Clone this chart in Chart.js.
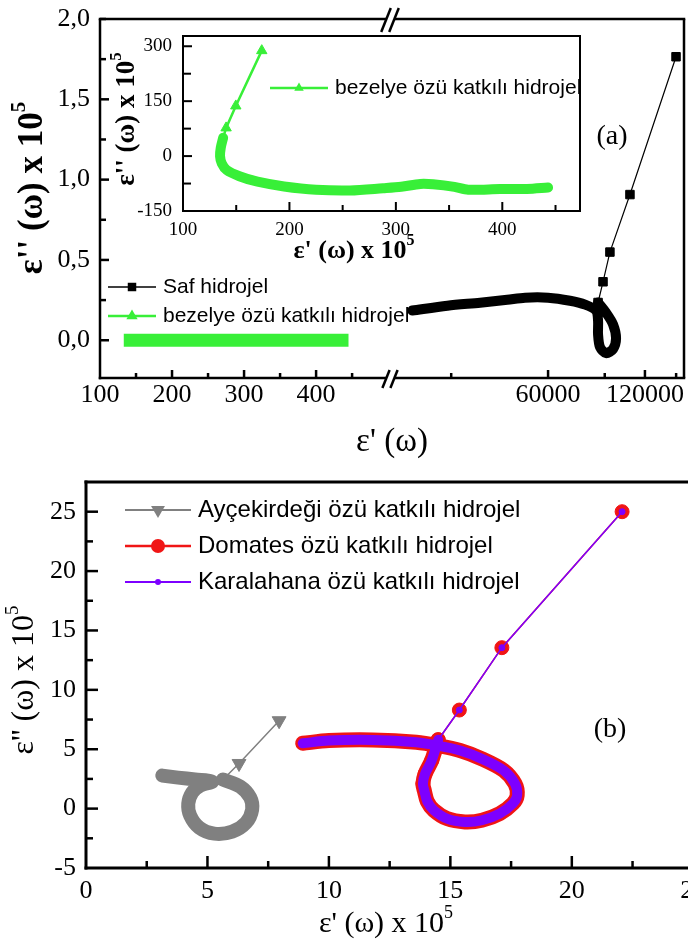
<!DOCTYPE html>
<html>
<head>
<meta charset="utf-8">
<title>Cole-Cole diyagramları</title>
<script src="https://cdn.jsdelivr.net/npm/chart.js"></script>
<style>
  html, body { margin: 0; padding: 0; background: #fff; overflow: hidden; }
  body { width: 688px; height: 947px; position: relative; }
  canvas { position: absolute; left: 0; top: 0; }
</style>
</head>
<body>
<canvas id="aLeft" width="770" height="947"></canvas>
<canvas id="aRight" width="770" height="947"></canvas>
<canvas id="aInset" width="770" height="947"></canvas>
<canvas id="bMain" width="770" height="947"></canvas>
<script>
// ---------- panel (a): left part of the broken x axis (linear) ----------
const aLeftXTicks = [100, 150, 200, 250, 300, 350, 400, 450];
const aLeftXLabels = ['100', '', '200', '', '300', '', '400', ''];
const aYTicks = [0, 0.25, 0.5, 0.75, 1, 1.25, 1.5, 1.75, 2];
const aYLabels = ['0,0', '', '0,5', '', '1,0', '', '1,5', '', '2,0'];

// bezelye özü katkılı hidrojel in the main frame (flat band near 0)
const bezelyeMainX = [133, 160, 200, 250, 300, 350, 400, 445];
const bezelyeMainY = [0, 0, 0, 0, 0, 0, 0, 0];

// ---------- panel (a): right part of the broken x axis (log) ----------
const aRightXTicks = [30000, 60000, 90000, 120000, 150000];
const aRightXLabels = ['', '60000', '', '120000', ''];

// Saf hidrojel: low-frequency points and the dense band with the loop
const safSparseX = [149900, 107800, 93400, 88900, 85800];
const safSparseY = [1.765, 0.907, 0.549, 0.364, 0.235];
const safDenseX = [85800, 90800, 95500, 97600, 95500, 90800, 87000, 85800, 85800, 84600, 78200, 70200, 60000, 50900, 44800, 36900, 29200, 22700];
const safDenseY = [0.235, 0.172, 0.099, 0.012, -0.055, -0.080, -0.043, 0.037, 0.123, 0.185, 0.222, 0.246, 0.265, 0.265, 0.252, 0.234, 0.215, 0.185];

// ---------- inset of panel (a) ----------
const insetXTicks = [100, 150, 200, 250, 300, 350, 400, 450];
const insetXLabels = ['100', '', '200', '', '300', '', '400', ''];
const insetYTicks = [-150, -75, 0, 75, 150, 225, 300];
const insetYLabels = ['-150', '', '0', '', '150', '', '300'];
const bezelyeSparseX = [174, 149.6, 140.5, 137.7];
const bezelyeSparseY = [288, 137, 77, 50];
const bezelyeDenseX = [137.7, 135.5, 134.8, 136.4, 141, 153, 170, 195, 225, 257, 288, 305, 323, 335, 355, 368, 398, 423, 443];
const bezelyeDenseY = [50, 23, 0, -20, -38, -55, -70, -83, -92, -94, -88, -84, -76, -77, -84, -92, -90, -90, -86];

// ---------- panel (b) ----------
const bXTicks = [0, 2.5, 5, 7.5, 10, 12.5, 15, 17.5, 20, 22.5, 25];
const bXLabels = ['0', '', '5', '', '10', '', '15', '', '20', '', '25'];
const bYTicks = [-5, -2.5, 0, 2.5, 5, 7.5, 10, 12.5, 15, 17.5, 20, 22.5, 25];
const bYLabels = ['-5', '', '0', '', '5', '', '10', '', '15', '', '20', '', '25'];

const aycekSparseX = [7.95, 6.3, 5.64];
const aycekSparseY = [7.4, 3.8, 2.45];
const aycekDenseX = [5.64, 6.35, 6.76, 6.84, 6.59, 6.02, 5.28, 4.66, 4.29, 4.21, 4.37, 4.70, 5.19, 4.49, 3.79, 3.14];
const aycekDenseY = [2.45, 1.85, 0.93, -0.08, -1.18, -1.94, -2.11, -1.60, -0.59, 0.42, 1.35, 1.94, 2.28, 2.45, 2.61, 2.78];

const domatesSparseX = [22.07, 17.12, 15.37, 14.5, 14.23, 13.96, 13.87];
const domatesSparseY = [25.0, 13.55, 8.30, 5.8, 4.05, 2.93, 2.1];
const domatesDenseX = [14.5, 14.23, 13.96, 13.87, 13.93, 14.05, 14.32, 14.86, 15.6, 16.3, 17.03, 17.57, 17.75, 17.66, 17.2, 16.3, 15.4, 14.5, 13.6, 11.8, 10.0, 8.92];
const domatesDenseY = [5.8, 4.05, 2.93, 2.1, 1.5, 0.6, -0.14, -0.84, -1.12, -0.98, -0.42, 0.42, 1.12, 2.1, 3.21, 4.19, 4.89, 5.3, 5.59, 5.78, 5.73, 5.5];

const karalahanaSparseX = [22.07, 17.12, 15.37, 14.5];
const karalahanaSparseY = [25.0, 13.55, 8.30, 5.8];
const karalahanaDenseX = [14.5, 14.23, 13.96, 13.87, 13.93, 14.05, 14.32, 14.86, 15.6, 16.3, 17.03, 17.57, 17.75, 17.66, 17.2, 16.3, 15.4, 14.5, 13.6, 11.8, 10.0, 8.92];
const karalahanaDenseY = [5.8, 4.05, 2.93, 2.1, 1.5, 0.6, -0.14, -0.84, -1.12, -0.98, -0.42, 0.42, 1.12, 2.1, 3.21, 4.19, 4.89, 5.3, 5.59, 5.78, 5.73, 5.5];

// ---------- helpers ----------
const W = 770, H = 947;
const SERIF = "'Liberation Serif', 'Times New Roman', serif";
const SANS = "'Liberation Sans', Arial, sans-serif";
const GREEN = '#38ef38', RED = '#f01515', PURPLE = '#7d00ff', GRAY = '#808080';

function pts(xs, ys) { return xs.map((x, i) => ({ x: x, y: ys[i] })); }

function band(xs, ys, color, width, order, cap) {
  return { data: pts(xs, ys), showLine: true, borderColor: color, borderWidth: width,
    pointRadius: 0, borderCapStyle: cap || 'round', borderJoinStyle: 'round', tension: 0.3, order: order };
}
function marked(xs, ys, color, width, style, radius, rot, order) {
  return { data: pts(xs, ys), showLine: true, borderColor: color, borderWidth: width,
    pointStyle: style, pointRadius: radius, pointRotation: rot, pointBackgroundColor: color,
    pointBorderColor: color, pointBorderWidth: 1, tension: 0, order: order };
}

// the axis box reaches from the plot edge to the canvas edge, so labels are not clipped
function axis(kind, area, min, max, ticks, labels, fontSize, pad, type) {
  return {
    type: type || 'linear', min: min, max: max,
    grid: { display: false, drawTicks: false }, border: { display: false },
    ticks: { autoSkip: false, maxRotation: 0, minRotation: 0, color: '#000', padding: pad,
      font: { family: SERIF, size: fontSize }, callback: (v, i) => labels[i] },
    afterBuildTicks: s => { s.ticks = ticks.map(v => ({ value: v })); },
    afterFit: s => {
      if (kind === 'x') { s.height = H - area.b; s.paddingLeft = 0; s.paddingRight = 0; }
      else { s.width = area.l; s.paddingTop = 0; s.paddingBottom = 0; }
    }
  };
}

function opts(area, scales, yShown) {
  return {
    responsive: false, animation: false, events: [],
    layout: { padding: { left: yShown ? 0 : area.l, top: area.t, right: W - area.r, bottom: 0 } },
    plugins: { legend: { display: false }, tooltip: { enabled: false } },
    scales: scales
  };
}

function line(ctx, x1, y1, x2, y2, w, color) {
  ctx.save(); ctx.strokeStyle = color || '#000'; ctx.lineWidth = w; ctx.lineCap = 'butt';
  ctx.beginPath(); ctx.moveTo(x1, y1); ctx.lineTo(x2, y2); ctx.stroke(); ctx.restore();
}

function tickMarks(chart, id, values, majors, majorLen, minorLen, w) {
  const ctx = chart.ctx, a = chart.chartArea, s = chart.scales[id];
  values.forEach(v => {
    const len = majors.indexOf(v) >= 0 ? majorLen : minorLen;
    const p = s.getPixelForValue(v);
    if (id === 'x') line(ctx, p, a.bottom, p, a.bottom - len, w);
    else line(ctx, a.left, p, a.left + len, p, w);
  });
}

function marker(ctx, style, x, y, r, color) {
  ctx.save(); ctx.fillStyle = color; ctx.beginPath();
  if (style === 'rect') {
    const s = r * Math.SQRT1_2; ctx.rect(x - s, y - s, 2 * s, 2 * s);
  } else if (style === 'triangle' || style === 'down') {
    const k = style === 'triangle' ? 1 : -1;
    ctx.moveTo(x, y - k * r);
    ctx.lineTo(x + 0.866 * r, y + k * 0.5 * r);
    ctx.lineTo(x - 0.866 * r, y + k * 0.5 * r);
    ctx.closePath();
  } else {
    ctx.arc(x, y, r, 0, Math.PI * 2);
  }
  ctx.fill(); ctx.restore();
}

function legendItem(ctx, x1, x2, y, color, lw, style, r, text, size) {
  line(ctx, x1, y, x2, y, lw, color);
  marker(ctx, style, (x1 + x2) / 2, y, r, color);
  ctx.save(); ctx.fillStyle = '#000'; ctx.font = size + 'px ' + SANS;
  ctx.textBaseline = 'middle'; ctx.textAlign = 'left';
  ctx.fillText(text, x2 + 7, y); ctx.restore();
}

// parts: [text, size, bold, raise]
function rich(ctx, parts, x, y, rot) {
  ctx.save(); ctx.translate(x, y); ctx.rotate(rot || 0);
  ctx.fillStyle = '#000'; ctx.textBaseline = 'middle'; ctx.textAlign = 'left';
  const font = p => (p[2] ? 'bold ' : '') + p[1] + 'px ' + SERIF;
  let total = 0;
  parts.forEach(p => { ctx.font = font(p); total += ctx.measureText(p[0]).width; });
  let cx = -total / 2;
  parts.forEach(p => { ctx.font = font(p); ctx.fillText(p[0], cx, -(p[3] || 0)); cx += ctx.measureText(p[0]).width; });
  ctx.restore();
}

function breakMark(ctx, cx, cy, h) {
  ctx.save();
  ctx.fillStyle = '#fff';
  ctx.beginPath();
  ctx.moveTo(cx - 4 - h * 0.4, cy + h); ctx.lineTo(cx - 4 + h * 0.4, cy - h);
  ctx.lineTo(cx + 4 + h * 0.4, cy - h); ctx.lineTo(cx + 4 - h * 0.4, cy + h);
  ctx.closePath(); ctx.fill();
  ctx.restore();
  [-4, 4].forEach(d => line(ctx, cx + d - h * 0.4, cy + h, cx + d + h * 0.4, cy - h, 2.5));
}

// ---------- chart (a), left segment ----------
const aLeftArea = { l: 100, t: 19, r: 391, b: 378 };
new Chart(document.getElementById('aLeft'), {
  type: 'scatter',
  data: { datasets: [ band(bezelyeMainX, bezelyeMainY, GREEN, 13, 0, 'butt') ] },
  options: opts(aLeftArea, {
    x: axis('x', aLeftArea, 100, 504, aLeftXTicks, aLeftXLabels, 26, 2),
    y: axis('y', aLeftArea, -0.235, 2.0, aYTicks, aYLabels, 26, 10)
  }, true),
  plugins: [{
    id: 'decoLeft',
    afterDraw(chart) {
      const ctx = chart.ctx, a = chart.chartArea;
      line(ctx, a.left, a.top, a.left, a.bottom + 1.25, 2.5);
      line(ctx, a.left - 1.25, a.top, a.right, a.top, 2.5);
      line(ctx, a.left - 1.25, a.bottom, a.right, a.bottom, 2.5);
      tickMarks(chart, 'x', aLeftXTicks.slice(1), [200, 300, 400], 8, 5, 2.5);
      tickMarks(chart, 'y', aYTicks, [0, 0.5, 1, 1.5], 9, 6, 2.5);
    }
  }]
});

// ---------- chart (a), right segment ----------
const aRightArea = { l: 391, t: 19, r: 684, b: 378 };
new Chart(document.getElementById('aRight'), {
  type: 'scatter',
  data: { datasets: [
    marked(safSparseX, safSparseY, '#000', 1.2, 'rect', 6, 0, 0),
    band(safDenseX, safDenseY, '#000', 10, 1)
  ] },
  options: opts(aRightArea, {
    x: axis('x', aRightArea, 19500, 158700, aRightXTicks, aRightXLabels, 26, 2, 'logarithmic'),
    y: { display: false, min: -0.235, max: 2.0 }
  }, false),
  plugins: [{
    id: 'decoRight',
    afterDraw(chart) {
      const ctx = chart.ctx, a = chart.chartArea;
      line(ctx, a.left - 4, a.top, a.right + 1.25, a.top, 2.5);
      line(ctx, a.left - 4, a.bottom, a.right + 1.25, a.bottom, 2.5);
      line(ctx, a.right, a.top, a.right, a.bottom, 2.5);
      tickMarks(chart, 'x', aRightXTicks, [60000, 120000], 8, 5, 2.5);
      breakMark(ctx, 390, 20, 12);
      breakMark(ctx, 390, 379, 9);
      // texts of panel (a)
      rich(ctx, [["ε'' (ω) x 10", 35, true], ['5', 21, true, 13]], 33, 188, -Math.PI / 2);
      rich(ctx, [["ε' (ω)", 33, false]], 392, 442);
      rich(ctx, [['(a)', 28, false]], 612, 137);
      legendItem(ctx, 108, 156, 287, '#000', 1.5, 'rect', 6, 'Saf hidrojel', 21);
      legendItem(ctx, 108, 156, 316, GREEN, 2.5, 'triangle', 6.5, 'bezelye özü katkılı hidrojel', 21);
    }
  }]
});

// ---------- inset of panel (a) ----------
const insetArea = { l: 183, t: 36, r: 580, b: 211 };
new Chart(document.getElementById('aInset'), {
  type: 'scatter',
  data: { datasets: [
    marked(bezelyeSparseX, bezelyeSparseY, GREEN, 2.5, 'triangle', [6, 6, 6, 0], 0, 0),
    band(bezelyeDenseX, bezelyeDenseY, GREEN, 10, 1)
  ] },
  options: opts(insetArea, {
    x: axis('x', insetArea, 100, 473, insetXTicks, insetXLabels, 19, 8),
    y: axis('y', insetArea, -150, 328, insetYTicks, insetYLabels, 19, 11)
  }, true),
  plugins: [{
    id: 'decoInset',
    afterDraw(chart) {
      const ctx = chart.ctx, a = chart.chartArea;
      ctx.save(); ctx.strokeStyle = '#000'; ctx.lineWidth = 2;
      ctx.strokeRect(a.left, a.top, a.right - a.left, a.bottom - a.top); ctx.restore();
      tickMarks(chart, 'x', insetXTicks.slice(1), [200, 300, 400], 9, 6, 2);
      tickMarks(chart, 'y', insetYTicks.slice(1), [0, 150, 300], 9, 8, 2);
      rich(ctx, [["ε'' (ω) x 10", 27, true], ['5', 17, true, 10]], 127, 119, -Math.PI / 2);
      rich(ctx, [["ε' (ω) x 10", 26, true], ['5', 16, true, 10]], 354, 251);
      legendItem(ctx, 270, 328, 88, GREEN, 2.5, 'triangle', 5.5, 'bezelye özü katkılı hidrojel', 21);
    }
  }]
});

// ---------- panel (b) ----------
const bArea = { l: 86, t: 482, r: 754, b: 868 };
new Chart(document.getElementById('bMain'), {
  type: 'scatter',
  data: { datasets: [
    marked(karalahanaSparseX, karalahanaSparseY, PURPLE, 1.5, 'circle', 3, 0, 0),
    band(karalahanaDenseX, karalahanaDenseY, PURPLE, 10, 1),
    marked(domatesSparseX, domatesSparseY, RED, 1.5, 'circle', 7, 0, 2),
    band(domatesDenseX, domatesDenseY, RED, 15, 3),
    marked(aycekSparseX, aycekSparseY, GRAY, 1.5, 'triangle', [8, 8, 0], 180, 4),
    band(aycekDenseX, aycekDenseY, GRAY, 14, 5)
  ] },
  options: opts(bArea, {
    x: axis('x', bArea, 0, 27.5, bXTicks, bXLabels, 26, 8),
    y: axis('y', bArea, -5, 27.5, bYTicks, bYLabels, 26, 10)
  }, true),
  plugins: [{
    id: 'decoB',
    afterDraw(chart) {
      const ctx = chart.ctx, a = chart.chartArea;
      line(ctx, a.left, a.top - 1.5, a.left, a.bottom + 1.5, 3);
      line(ctx, a.left - 1.5, a.top, a.right, a.top, 3);
      line(ctx, a.left - 1.5, a.bottom, a.right, a.bottom, 3);
      line(ctx, a.right, a.top, a.right, a.bottom, 3);
      tickMarks(chart, 'x', bXTicks.slice(1), [5, 10, 15, 20, 25], 12, 7, 2.5);
      tickMarks(chart, 'y', bYTicks.slice(1), [0, 5, 10, 15, 20, 25], 12, 7, 2.5);
      rich(ctx, [["ε'' (ω) x 10", 32, false], ['5', 19, false, 12]], 25, 680, -Math.PI / 2);
      rich(ctx, [["ε' (ω) x 10", 30, false], ['5', 18, false, 11]], 386, 924);
      rich(ctx, [['(b)', 28, false]], 610, 730);
      legendItem(ctx, 125, 191, 510, GRAY, 2, 'down', 8, 'Ayçekirdeği özü katkılı hidrojel', 24);
      legendItem(ctx, 125, 191, 546, RED, 2.5, 'circle', 7, 'Domates özü katkılı hidrojel', 24);
      legendItem(ctx, 125, 191, 582, PURPLE, 2, 'circle', 3, 'Karalahana özü katkılı hidrojel', 24);
    }
  }]
});
</script>
</body>
</html>
